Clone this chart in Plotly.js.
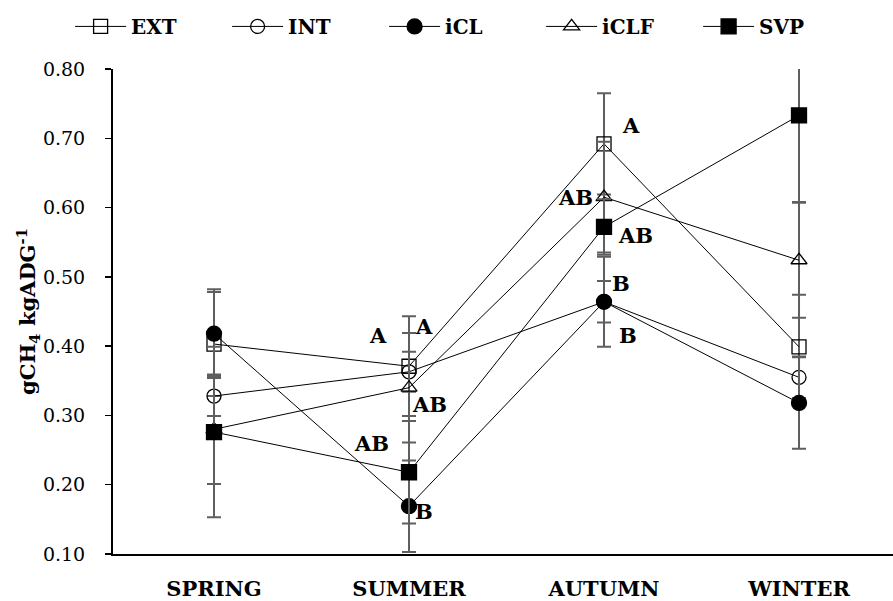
<!DOCTYPE html>
<html>
<head>
<meta charset="utf-8">
<script src="https://cdn.plot.ly/plotly-3.0.1.min.js"></script>
<style>
html,body{margin:0;padding:0;background:#fff;}
#chart{width:893px;height:601px;}
</style>
</head>
<body>
<div id="chart"></div>
<script>
// ---- data ----
const categories = ['SPRING', 'SUMMER', 'AUTUMN', 'WINTER'];
const seriesNames = ['EXT', 'INT', 'iCL', 'iCLF', 'SVP'];

const EXT      = [0.403, 0.371, 0.692, 0.399];
const EXT_err  = [0.075, 0.072, 0.073, 0.075];
const INT      = [0.328, 0.363, 0.464, 0.355];
const INT_err  = [0.029, 0.029, 0.065, 0.030];
const iCL      = [0.418, 0.169, 0.464, 0.318];
const iCL_err  = [0.064, 0.066, 0.030, 0.066];
const iCLF     = [0.280, 0.340, 0.615, 0.524];
const iCLF_err = [0.079, 0.079, 0.080, 0.083];
const SVP      = [0.276, 0.218, 0.572, 0.733];
const SVP_err  = [0.123, 0.074, 0.040, 0.125];

// significance letters: [season index, value level, text]
const letterSeason = [1, 1, 1, 1, 1, 2, 2, 2, 2, 2];
const letterLevel  = [0.415, 0.429, 0.316, 0.259, 0.161, 0.718, 0.615, 0.559, 0.490, 0.415];
const letterText   = ['A', 'A', 'AB', 'AB', 'B', 'A', 'AB', 'AB', 'B', 'B'];

const yTickVals = [0.10, 0.20, 0.30, 0.40, 0.50, 0.60, 0.70, 0.80];

// ---- styling ----
const FONT = 'DejaVu Serif, Liberation Serif, serif';
const letterShift = [-31, 15, 20, -38, 15, 27, -29, 31, 17, 24];
const symbols = ['square-open', 'circle-open', 'circle', 'triangle-up-open', 'square'];
const sizes = [14, 14, 15, 14, 15];
const values = [EXT, INT, iCL, iCLF, SVP];
const errors = [EXT_err, INT_err, iCL_err, iCLF_err, SVP_err];

const traces = seriesNames.map((name, i) => ({
  type: 'scatter',
  mode: 'lines+markers',
  name: name,
  x: categories,
  y: values[i],
  line: {color: '#000', width: 1},
  marker: {symbol: symbols[i], size: sizes[i], color: '#000', line: {color: '#000', width: 1.3}},
  error_y: {type: 'data', array: errors[i], visible: true, color: '#5f5f5f', thickness: 2, width: 7},
  cliponaxis: true
}));

const annotations = letterText.map((t, i) => ({
  x: letterSeason[i], y: letterLevel[i], xref: 'x', yref: 'y',
  text: '<b>' + t + '</b>', showarrow: false, xshift: letterShift[i],
  font: {family: FONT, size: 21, color: '#000'}
}));

const layout = {
  width: 893, height: 601,
  margin: {l: 113, r: 0, t: 69, b: 47},
  paper_bgcolor: '#fff', plot_bgcolor: '#fff',
  font: {family: FONT, size: 19, color: '#000'},
  showlegend: true,
  legend: {
    orientation: 'h', xref: 'paper', yref: 'paper',
    x: -0.055, y: 1.128, xanchor: 'left', yanchor: 'top',
    font: {family: FONT, size: 20, color: '#000', weight: 'bold'},
    itemsizing: 'trace', itemwidth: 51,
    entrywidth: 91, entrywidthmode: 'pixels',
    bgcolor: 'rgba(0,0,0,0)'
  },
  xaxis: {
    type: 'category', range: [-0.518, 3.482],
    showline: true, linecolor: '#000', linewidth: 2,
    ticks: '', showgrid: false, zeroline: false,
    tickfont: {family: FONT, size: 21, color: '#000', weight: 'bold'},
    ticklabelstandoff: 15
  },
  yaxis: {
    range: [0.1, 0.8], tickvals: yTickVals, tickformat: '.2f',
    showline: true, linecolor: '#000', linewidth: 2,
    ticks: 'outside', ticklen: 6, tickwidth: 1.5, tickcolor: '#000',
    showgrid: false, zeroline: false,
    tickfont: {family: FONT, size: 19, color: '#000'},
    ticklabelstandoff: 16,
    title: {text: '<b>gCH<sub>4</sub> kgADG<sup>-1</sup></b>', font: {family: FONT, size: 21, color: '#000'}, standoff: 0}
  },
  annotations: annotations
};

Plotly.newPlot('chart', traces, layout, {staticPlot: true, displayModeBar: false});
</script>
</body>
</html>
